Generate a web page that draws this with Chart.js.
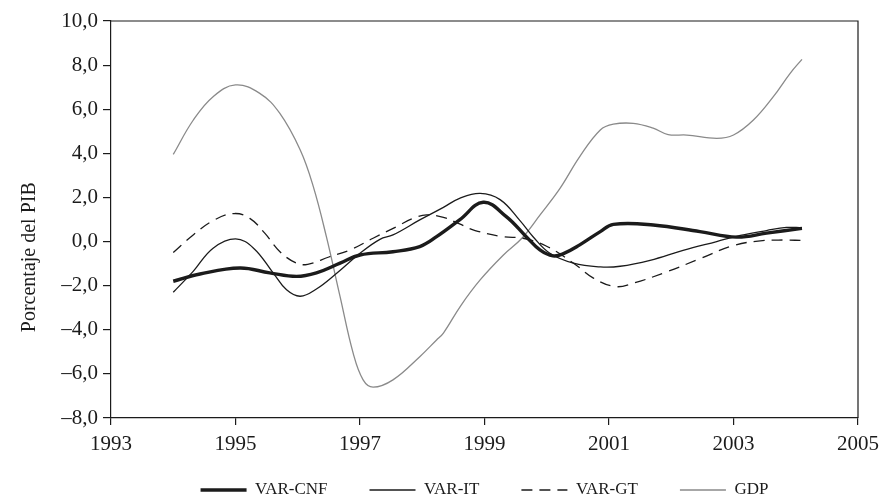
<!DOCTYPE html>
<html>
<head>
<meta charset="utf-8">
<script src="https://cdn.jsdelivr.net/npm/chart.js@4/dist/chart.umd.min.js"></script>
<style>
  html, body { margin: 0; padding: 0; background: #ffffff; }
  #wrap { width: 889px; height: 501px; position: relative; }
  canvas { display: block; }
</style>
</head>
<body>
<div id="wrap"><canvas id="chart" width="889" height="501"></canvas></div>
<script>
// Series read as (year, % of GDP) pairs
const cnfYears  = [1994.0, 1994.43, 1995.07, 1995.55, 1995.98, 1996.3, 1996.68, 1997.0, 1997.53, 1997.96, 1998.23, 1998.6, 1998.98, 1999.35, 1999.67, 1999.89, 2000.1, 2000.26, 2000.53, 2000.86, 2001.07, 2001.71, 2002.46, 2003.05, 2003.53, 2004.1];
const cnfValues = [-1.8, -1.47, -1.2, -1.42, -1.58, -1.42, -0.98, -0.61, -0.46, -0.23, 0.22, 0.98, 1.78, 1.13, 0.22, -0.38, -0.65, -0.56, -0.15, 0.45, 0.78, 0.75, 0.45, 0.2, 0.38, 0.6];

const itYears  = [1994.0, 1994.32, 1994.64, 1995.0, 1995.29, 1995.61, 1995.82, 1996.04, 1996.3, 1996.64, 1997.0, 1997.32, 1997.53, 1997.96, 1998.34, 1998.6, 1998.93, 1999.25, 1999.57, 1999.78, 2000.05, 2000.43, 2000.86, 2001.18, 2001.66, 2002.19, 2002.73, 2003.11, 2003.53, 2003.85, 2004.1];
const itValues = [-2.3, -1.35, -0.3, 0.12, -0.3, -1.44, -2.19, -2.48, -2.15, -1.4, -0.53, 0.1, 0.3, 0.98, 1.55, 1.96, 2.18, 1.9, 0.95, 0.22, -0.53, -0.98, -1.15, -1.12, -0.85, -0.4, 0.0, 0.28, 0.5, 0.64, 0.63];

const gtYears  = [1994.0, 1994.32, 1994.66, 1994.98, 1995.23, 1995.47, 1995.71, 1995.98, 1996.16, 1996.5, 1996.84, 1997.21, 1997.59, 1997.86, 1998.07, 1998.34, 1998.6, 1998.85, 1999.3, 1999.62, 1999.99, 2000.43, 2000.75, 2001.1, 2001.39, 2001.92, 2002.46, 2003.0, 2003.43, 2003.8, 2004.1];
const gtValues = [-0.5, 0.3, 0.98, 1.27, 1.05, 0.38, -0.45, -0.98, -1.03, -0.7, -0.38, 0.15, 0.68, 1.06, 1.21, 1.1, 0.8, 0.5, 0.22, 0.15, -0.2, -0.98, -1.66, -2.04, -1.89, -1.38, -0.78, -0.18, 0.03, 0.07, 0.05];

const gdpYears  = [1994.0, 1994.32, 1994.64, 1995.0, 1995.39, 1995.71, 1996.04, 1996.25, 1996.46, 1996.68, 1996.89, 1997.05, 1997.21, 1997.53, 1997.96, 1998.23, 1998.34, 1998.62, 1998.93, 1999.3, 1999.6, 1999.89, 2000.21, 2000.53, 2000.86, 2001.07, 2001.39, 2001.71, 2001.95, 2002.25, 2002.73, 2003.0, 2003.32, 2003.64, 2003.91, 2004.1];
const gdpValues = [3.95, 5.5, 6.57, 7.1, 6.72, 5.82, 4.15, 2.49, 0.22, -2.5, -5.06, -6.27, -6.6, -6.27, -5.22, -4.46, -4.15, -2.9, -1.74, -0.62, 0.15, 1.2, 2.4, 3.85, 5.06, 5.32, 5.36, 5.14, 4.85, 4.83, 4.68, 4.83, 5.51, 6.57, 7.63, 8.26];

const seriesNames = ['VAR-CNF', 'VAR-IT', 'VAR-GT', 'GDP'];
const yAxisTitle = 'Porcentaje del PIB';

const xMin = 1993, xMax = 2005, xStep = 2;
const yMin = -8, yMax = 10, yStep = 2;

const ink = '#1b1b1b';
const serif = "'Liberation Serif', 'Times New Roman', serif";

const toPoints = (xs, ys) => xs.map((x, i) => ({ x: x, y: ys[i] }));

// Decimal comma and en-dash minus for the value axis
const fmtValue = v => (v < 0 ? '\u2013' : '') + Math.abs(v).toFixed(1).replace('.', ',');

// Closed frame around the plot area, legend placement and the rotated value-axis title
const framePlugin = {
  id: 'frame',
  afterLayout(chart) {
    // raise the top of the legend row so its items sit closer to the year labels
    const lg = chart.legend;
    if (lg) { lg.top -= 14.5; }
  },
  beforeDatasetsDraw(chart) {
    const { ctx, chartArea: a } = chart;
    ctx.save();
    ctx.strokeStyle = ink;
    ctx.lineWidth = 1.2;
    ctx.beginPath();
    ctx.moveTo(a.left, a.top);
    ctx.lineTo(a.right, a.top);
    ctx.lineTo(a.right, a.bottom);
    ctx.stroke();
    ctx.restore();
  },
  afterDraw(chart) {
    const { ctx, chartArea: a } = chart;
    ctx.save();
    ctx.fillStyle = ink;
    ctx.font = "20px " + serif;
    ctx.textAlign = 'center';
    ctx.textBaseline = 'middle';
    ctx.translate(30, a.top + a.height * 0.595);
    ctx.rotate(-Math.PI / 2);
    ctx.fillText(yAxisTitle, 0, 0);
    ctx.restore();
  }
};

const lineBase = { pointRadius: 0, pointHoverRadius: 0, fill: false, tension: 0.4, borderCapStyle: 'butt' };

new Chart(document.getElementById('chart'), {
  type: 'line',
  data: {
    datasets: [
      Object.assign({ label: seriesNames[0], data: toPoints(cnfYears, cnfValues), borderColor: ink, borderWidth: 3.4 }, lineBase),
      Object.assign({ label: seriesNames[1], data: toPoints(itYears, itValues), borderColor: ink, borderWidth: 1.3 }, lineBase),
      Object.assign({ label: seriesNames[2], data: toPoints(gtYears, gtValues), borderColor: ink, borderWidth: 1.3, borderDash: [11, 7] }, lineBase),
      Object.assign({ label: seriesNames[3], data: toPoints(gdpYears, gdpValues), borderColor: '#8a8a8a', borderWidth: 1.3 }, lineBase)
    ]
  },
  options: {
    responsive: false,
    maintainAspectRatio: false,
    animation: false,
    devicePixelRatio: 1,
    layout: { padding: { top: 21, right: 31, left: 0, bottom: 0 } },
    scales: {
      x: {
        type: 'linear',
        min: xMin, max: xMax,
        afterFit: s => { s.height = 36; },
        afterBuildTicks: s => {
          const t = [];
          for (let v = xMin; v <= xMax; v += xStep) t.push({ value: v });
          s.ticks = t;
        },
        ticks: {
          autoSkip: false, maxRotation: 0, padding: 7, color: ink,
          font: { family: serif, size: 21 },
          callback: v => String(v)
        },
        grid: { drawOnChartArea: false, drawTicks: true, tickLength: 7, color: ink, lineWidth: 1.2 },
        border: { display: true, color: ink, width: 1.2 }
      },
      y: {
        min: yMin, max: yMax,
        afterFit: s => { s.width = 111; },
        ticks: {
          stepSize: yStep, padding: 5, color: ink,
          font: { family: serif, size: 21 },
          callback: v => fmtValue(v)
        },
        grid: { drawOnChartArea: false, drawTicks: true, tickLength: 8, color: ink, lineWidth: 1.2 },
        border: { display: true, color: ink, width: 1.2 }
      }
    },
    plugins: {
      legend: {
        position: 'bottom',
        fullSize: false,
        maxHeight: 47,
        labels: {
          usePointStyle: true,
          pointStyle: 'line',
          pointStyleWidth: 46,
          padding: 42,
          color: ink,
          font: { family: serif, size: 17 },
          generateLabels(chart) {
            const items = Chart.defaults.plugins.legend.labels.generateLabels(chart);
            items.forEach(it => {
              const ds = chart.data.datasets[it.datasetIndex];
              it.lineDash = ds.borderDash || [];
              it.lineWidth = ds.borderWidth;
              it.strokeStyle = ds.borderColor;
            });
            return items;
          }
        }
      },
      tooltip: { enabled: false },
      title: { display: false }
    }
  },
  plugins: [framePlugin]
});
</script>
</body>
</html>
